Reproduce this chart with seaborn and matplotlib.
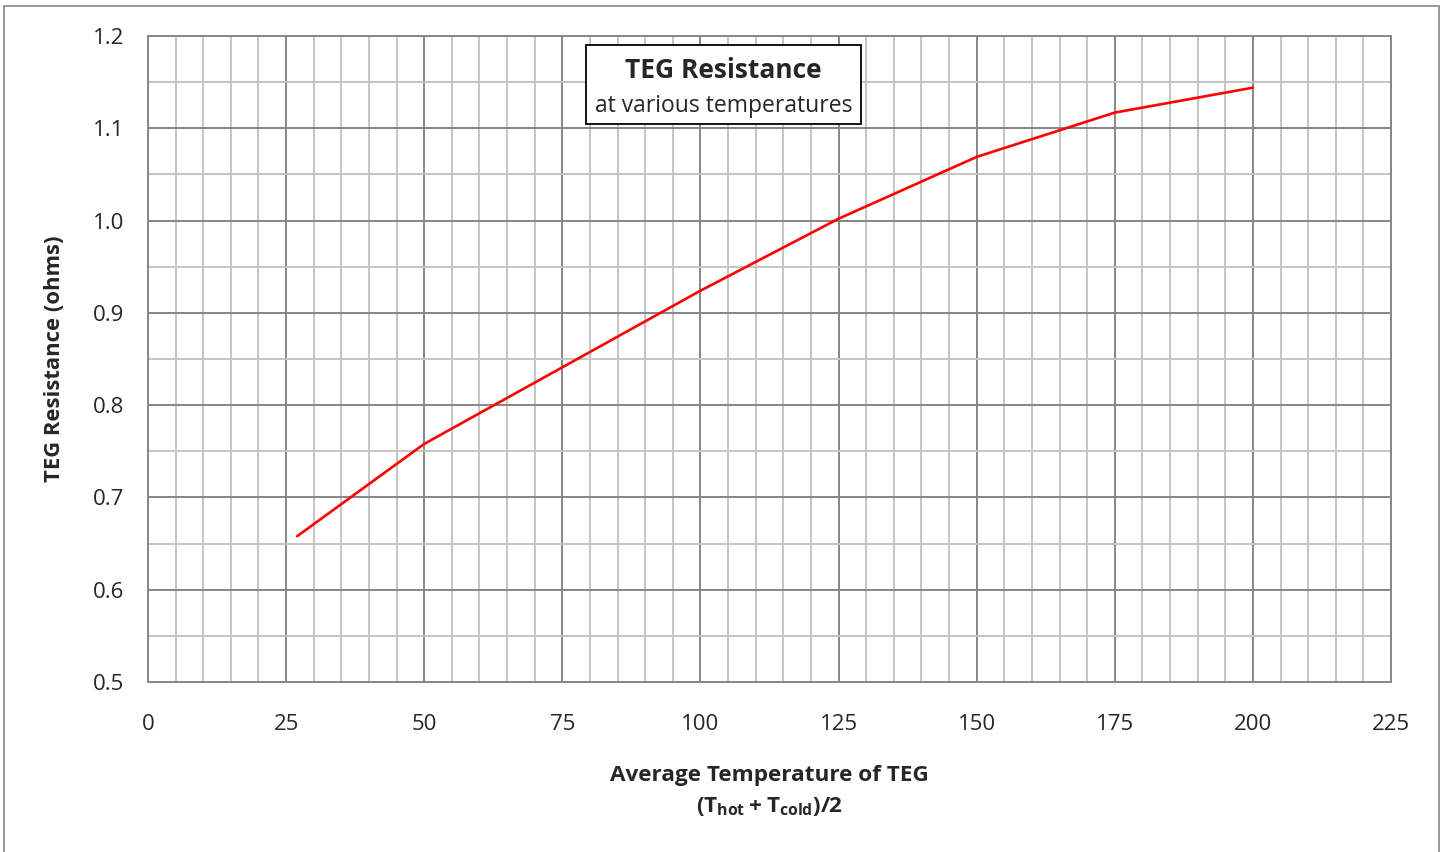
import numpy as np
import pandas as pd
import seaborn as sns
import matplotlib.pyplot as plt
from matplotlib.patches import Rectangle
from matplotlib.ticker import MultipleLocator

# Data
avg_temp = [27, 50, 75, 100, 125, 150, 175, 200]
resistance = [0.658, 0.758, 0.841, 0.924, 1.002, 1.069, 1.117, 1.144]

x_ticks = [0, 25, 50, 75, 100, 125, 150, 175, 200, 225]
y_ticks = [0.5, 0.6, 0.7, 0.8, 0.9, 1.0, 1.1, 1.2]

sns.set_style("white")
plt.rcParams['font.family'] = ['Open Sans', 'DejaVu Sans']
plt.rcParams['mathtext.fontset'] = 'custom'
plt.rcParams['mathtext.rm'] = 'Open Sans'
plt.rcParams['mathtext.bf'] = 'Open Sans:bold'

MAJOR = '#868686'
MINOR = '#c4c4c4'

df = pd.DataFrame({'temp': avg_temp, 'res': resistance})

fig = plt.figure(figsize=(14.43, 8.52), dpi=100)
ax = fig.add_axes([148 / 1443, 1 - 682 / 852, (1391 - 148) / 1443, (682 - 36) / 852])

sns.lineplot(data=df, x='temp', y='res', color='#ff0000', linewidth=1.9, ax=ax)

ax.set_xlim(0, 225)
ax.set_ylim(0.5, 1.2)
ax.set_xticks(x_ticks)
ax.set_yticks(y_ticks)
ax.set_yticklabels([f'{v:.1f}' for v in y_ticks])
ax.xaxis.set_minor_locator(MultipleLocator(5))
ax.yaxis.set_minor_locator(MultipleLocator(0.05))
ax.grid(which='major', color=MAJOR, linewidth=1.4)
ax.grid(which='minor', color=MINOR, linewidth=1.4)
ax.set_axisbelow(True)
ax.tick_params(which='major', direction='out', length=7, width=1.4, color=MAJOR,
               labelsize=16)
ax.tick_params(axis='x', which='major', pad=16)
ax.tick_params(axis='y', which='major', pad=10)
ax.tick_params(which='minor', length=0)
for s in ax.spines.values():
    s.set_color(MAJOR)
    s.set_linewidth(1.4)

ax.set_xlabel('Average Temperature of TEG\n' + r'$\mathbf{(T_{hot} + T_{cold})/2}$',
              fontsize=16.2, fontweight='bold', labelpad=22, linespacing=1.5)
ax.set_ylabel('TEG Resistance (ohms)', fontsize=15.8, fontweight='bold', labelpad=20)

# Title box
ax.add_patch(Rectangle((0.3524, 0.8638), 0.2212, 0.1222, transform=ax.transAxes,
                       facecolor='white', edgecolor='black', linewidth=1.3, zorder=5))
ax.text(0.463, 0.947, 'TEG Resistance', transform=ax.transAxes, ha='center', va='center',
        fontsize=19, fontweight='bold', zorder=6)
ax.text(0.463, 0.891, 'at various temperatures', transform=ax.transAxes, ha='center',
        va='center', fontsize=16.5, zorder=6)

# Outer chart border
fig.patches.append(Rectangle((4 / 1443, -0.05), (1439 - 4) / 1443, 1.05 - 6 / 852,
                             transform=fig.transFigure, fill=False, edgecolor=MAJOR,
                             linewidth=1.2))

fig.savefig('out.png', dpi=100)
